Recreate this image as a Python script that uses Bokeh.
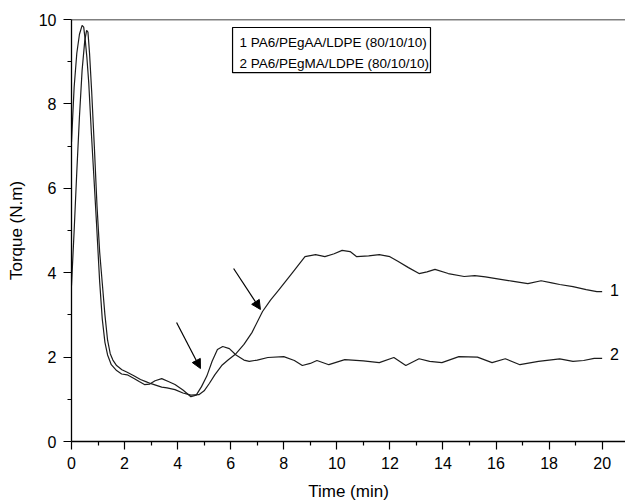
from bokeh.plotting import figure
from bokeh.models import (FixedTicker, Span, Arrow, NormalHead, BoxAnnotation,
                          Label, Range1d, ColumnDataSource)
from bokeh.core.properties import value
from bokeh.embed import file_html
from bokeh.resources import INLINE

FONT = "Liberation Sans"

# ---- data ----
time1 = [0, 0.1, 0.2, 0.3, 0.4, 0.5, 0.57, 0.62, 0.68, 0.76, 0.86, 0.96, 1.06, 1.16,
         1.26, 1.36, 1.46, 1.56, 1.7, 1.9, 2.1, 2.35, 2.6, 2.8, 3.0, 3.2, 3.4, 3.6,
         3.9, 4.2, 4.5, 4.8, 5.0, 5.2, 5.4, 5.66, 5.9, 6.2, 6.5, 6.8, 7.2, 7.5, 7.8,
         8.3, 8.8, 9.2, 9.55, 9.9, 10.2, 10.5, 10.75, 11.2, 11.6, 12.0, 12.3, 12.7,
         13.1, 13.4, 13.7, 14.2, 14.8, 15.2, 15.6, 16.0, 16.6, 17.2, 17.7, 18.1,
         18.4, 18.9, 19.4, 19.8, 20.0]
torque1 = [3.7, 5.0, 6.4, 7.7, 8.8, 9.5, 9.74, 9.7, 9.2, 8.3, 7.0, 5.6, 4.5, 3.75,
           3.0, 2.4, 2.08, 1.93, 1.8, 1.7, 1.64, 1.56, 1.47, 1.42, 1.37, 1.33, 1.29,
           1.27, 1.23, 1.15, 1.1, 1.11, 1.2, 1.38, 1.58, 1.8, 1.93, 2.08, 2.3, 2.58,
           3.08, 3.35, 3.58, 3.98, 4.38, 4.43, 4.38, 4.45, 4.53, 4.5, 4.38, 4.4,
           4.43, 4.38, 4.27, 4.12, 3.98, 4.02, 4.08, 3.98, 3.91, 3.93, 3.9, 3.86,
           3.8, 3.74, 3.81, 3.76, 3.72, 3.67, 3.6, 3.55, 3.55]

time2 = [0, 0.1, 0.2, 0.3, 0.4, 0.46, 0.52, 0.58, 0.65, 0.75, 0.85, 0.94, 1.06,
         1.16, 1.26, 1.36, 1.5, 1.7, 1.89, 2.1, 2.34, 2.55, 2.75, 2.95, 3.15, 3.4,
         3.65, 3.9, 4.2, 4.5, 4.7, 4.9, 5.1, 5.3, 5.5, 5.7, 5.95, 6.2, 6.5, 6.7,
         7.0, 7.4, 8.0, 8.4, 8.7, 9.0, 9.25, 9.7, 10.3, 11.0, 11.6, 12.15, 12.6,
         13.1, 13.5, 13.96, 14.6, 15.3, 15.85, 16.35, 16.9, 17.6, 18.4, 18.9,
         19.3, 19.7, 20.0]
torque2 = [7.1, 8.4, 9.2, 9.65, 9.86, 9.82, 9.5, 9.1, 8.5, 7.3, 6.2, 5.2, 3.8, 2.9,
           2.35, 2.05, 1.82, 1.68, 1.6, 1.58, 1.5, 1.42, 1.35, 1.36, 1.44, 1.49,
           1.42, 1.35, 1.22, 1.06, 1.1, 1.3, 1.55, 1.9, 2.18, 2.25, 2.2, 2.05, 1.93,
           1.9, 1.93, 1.99, 2.01, 1.92, 1.8, 1.85, 1.92, 1.82, 1.94, 1.91, 1.87,
           1.99, 1.8, 1.96, 1.9, 1.87, 2.01, 2.0, 1.87, 1.96, 1.82, 1.9, 1.96, 1.9,
           1.92, 1.97, 1.97]

legend_texts = ["1 PA6/PEgAA/LDPE (80/10/10)", "2 PA6/PEgMA/LDPE (80/10/10)"]
curve_labels = ["1", "2"]
x_major = [0, 2, 4, 6, 8, 10, 12, 14, 16, 18, 20]
x_minor = [1, 3, 5, 7, 9, 11, 13, 15, 17, 19]
y_major = [0, 2, 4, 6, 8, 10]
y_minor = [1, 3, 5, 7, 9]
x_label = "Time (min)"
y_label = "Torque (N.m)"

# arrows (tail -> head) in data units
arrow_tails = [(3.96, 2.82), (6.11, 4.10)]
arrow_heads = [(4.86, 1.73), (7.12, 3.13)]

X_END = 20.88
Y_END = 10

p = figure(width=625, height=503, x_range=Range1d(0, X_END), y_range=Range1d(0, Y_END),
           output_backend="svg", toolbar_location=None,
           min_border_left=71, min_border_right=0, min_border_top=19, min_border_bottom=62)
p.grid.visible = False
p.outline_line_color = None
p.background_fill_color = "white"
p.border_fill_color = "white"

LINE = "#1c1c1c"
p.line(time1, torque1, line_color=LINE, line_width=1.2)
p.line(time2, torque2, line_color=LINE, line_width=1.2)

# top frame line
p.add_layout(Span(location=Y_END, dimension="width", line_color="black", line_width=1.3))

for ax, maj, mnr, lab in ((p.xaxis[0], x_major, x_minor, x_label),
                          (p.yaxis[0], y_major, y_minor, y_label)):
    ax.ticker = FixedTicker(ticks=maj, minor_ticks=mnr)
    ax.axis_label = lab
    ax.axis_line_color = "black"
    ax.axis_line_width = 1.3
    ax.major_tick_line_color = "black"
    ax.minor_tick_line_color = "black"
    ax.major_tick_line_width = 1.2
    ax.minor_tick_line_width = 1.2
    ax.major_tick_out = 8
    ax.major_tick_in = 0
    ax.minor_tick_out = 4
    ax.minor_tick_in = 0
    ax.major_label_text_font = FONT
    ax.major_label_text_font_size = "16px"
    ax.major_label_text_color = "black"
    ax.axis_label_text_font = FONT
    ax.axis_label_text_font_size = "17px"
    ax.axis_label_text_font_style = "normal"
    ax.axis_label_text_color = "black"

p.xaxis[0].major_label_standoff = 7
p.xaxis[0].axis_label_standoff = 10
p.yaxis[0].major_label_standoff = 7
p.yaxis[0].axis_label_standoff = 10

# arrows
for (xs, ys), (xe, ye) in zip(arrow_tails, arrow_heads):
    p.add_layout(Arrow(x_start=xs, y_start=ys, x_end=xe, y_end=ye,
                       line_color="black", line_width=1.2,
                       end=NormalHead(size=9, fill_color="black", line_color="black",
                                      line_width=1)))

# curve end labels
src = ColumnDataSource(dict(x=[time1[-1] + 0.3, time2[-1] + 0.3],
                            y=[torque1[-1] + 0.03, torque2[-1] + 0.1],
                            t=curve_labels))
p.text(x="x", y="y", text="t", source=src, text_font=value(FONT),
       text_font_size="16px", text_align="left", text_baseline="middle",
       text_color="black")

# legend box
p.add_layout(BoxAnnotation(left=6.07, right=13.53, top=9.81, bottom=8.74,
                           fill_color="white", fill_alpha=1.0,
                           line_color="black", line_width=1.2, line_alpha=1.0))
for i, txt in enumerate(legend_texts):
    p.add_layout(Label(x=6.33, y=9.45 - i * 0.49, text=txt, text_font=FONT,
                       text_font_size="13.5px", text_baseline="middle",
                       text_align="left", text_color="black"))

open("out.html", "w").write(file_html(p, INLINE))
